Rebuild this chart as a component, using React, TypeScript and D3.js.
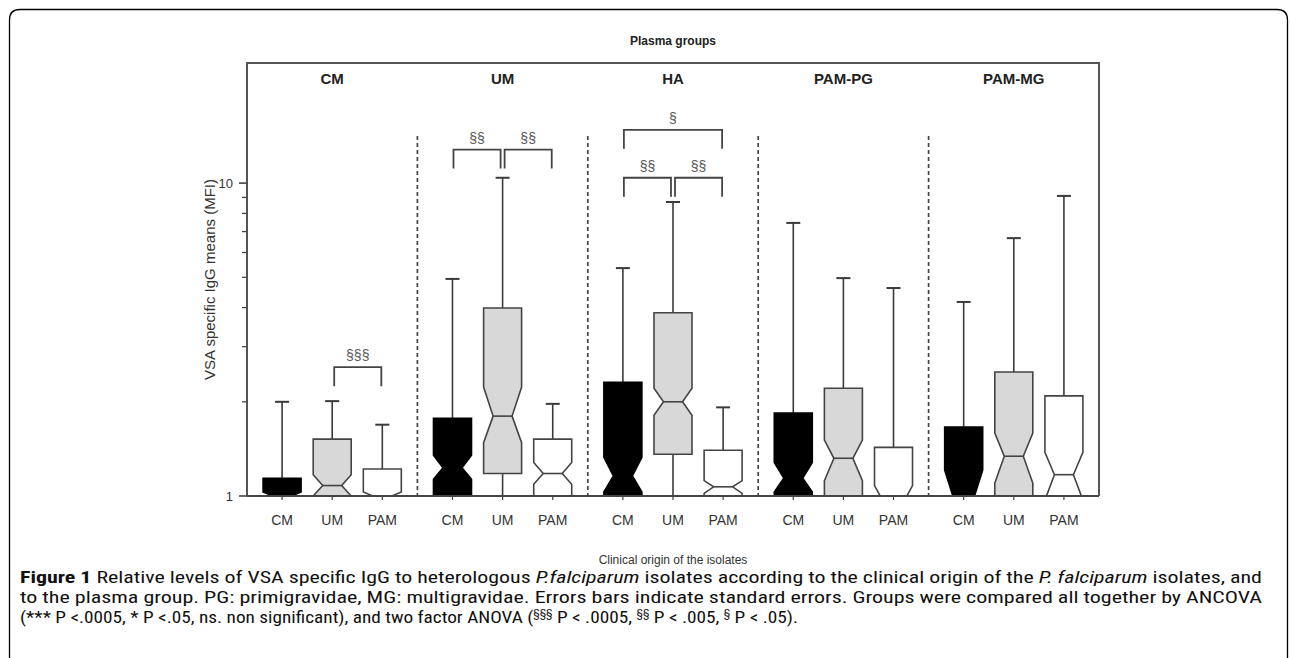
import React from "react";
import * as d3 from "d3";

const panels = ["CM", "UM", "HA", "PAM-PG", "PAM-MG"];
const isolates = ["CM", "UM", "PAM"];
const fills = ["#000000", "#d8d8d8", "#ffffff"];
const yTicks = [1, 10];
const minorTicks = [2, 3, 4, 5, 6, 7, 8, 9];

// ordered panel by panel, isolate CM, UM, PAM
const whiskerHi = [2.0, 2.01, 1.69, 4.94, 10.4, 1.97, 5.35, 8.7, 1.92, 7.46, 4.97, 4.62, 4.17, 6.67, 9.1];
const q3 = [1.14, 1.52, 1.22, 1.77, 3.99, 1.52, 2.31, 3.85, 1.4, 1.84, 2.21, 1.43, 1.66, 2.49, 2.09];
const notchHi = [1.03, 1.17, 1.03, 1.35, 2.23, 1.28, 1.33, 2.21, 1.12, 1.28, 1.51, 1.08, 1.21, 1.59, 1.38];
const median = [1.0, 1.08, 1.0, 1.23, 1.8, 1.18, 1.16, 2.0, 1.07, 1.14, 1.32, 0.95, 0.97, 1.34, 1.17];
const notchLo = [0.97, 1.0, 0.97, 1.13, 1.48, 1.09, 1.03, 1.81, 1.02, 1.03, 1.12, 0.84, 0.8, 1.1, 0.97];
const q1 = [0.8, 0.95, 0.8, 0.9, 1.18, 0.9, 0.9, 1.36, 0.9, 0.9, 0.9, 0.75, 0.7, 0.9, 0.8];
const whiskerLo = [0.7, 0.8, 0.7, 0.8, 0.95, 0.8, 0.8, 1.0, 0.8, 0.8, 0.8, 0.7, 0.6, 0.8, 0.7];

const bracketPanel = [0, 1, 1, 2, 2, 2];
const bracketFrom = [1, 0, 1, 0, 0, 1];
const bracketTo = [2, 1, 2, 2, 1, 2];
const bracketLevel = [2.58, 12.8, 12.8, 14.8, 10.4, 10.4];
const bracketLabel = ["§§§", "§§", "§§", "§", "§§", "§§"];

const L = 247, R = 1099, T = 63, B = 496;

export default function App() {
  const y = d3.scaleLog().domain([1, 24.2]).range([B, T]);
  const xp = d3.scaleBand<string>().domain(panels).range([L, R]);
  const xi = d3.scalePoint<string>().domain(isolates).range([0, xp.bandwidth()]).padding(0.7);
  const bw = 38, nw = 19, cap = 7;
  const cx = (p: number, i: number) => (xp(panels[p]) as number) + (xi(isolates[i]) as number);
  const stroke = "#3a3a3a";

  const boxes = [] as any[];
  panels.forEach((_, p) => {
    isolates.forEach((__, i) => {
      const k = p * 3 + i;
      const x = cx(p, i);
      const pts: [number, number][] = [
        [x - bw / 2, y(q3[k])], [x + bw / 2, y(q3[k])], [x + bw / 2, y(notchHi[k])],
        [x + nw / 2, y(median[k])], [x + bw / 2, y(notchLo[k])], [x + bw / 2, y(q1[k])],
        [x - bw / 2, y(q1[k])], [x - bw / 2, y(notchLo[k])], [x - nw / 2, y(median[k])],
        [x - bw / 2, y(notchHi[k])],
      ];
      const path = d3.line()(pts) + "Z";
      boxes.push(
        <g key={k}>
          <line x1={x} x2={x} y1={y(q3[k])} y2={y(whiskerHi[k])} stroke={stroke} strokeWidth={1.6} />
          <line x1={x - cap} x2={x + cap} y1={y(whiskerHi[k])} y2={y(whiskerHi[k])} stroke={stroke} strokeWidth={2} />
          <line x1={x} x2={x} y1={y(q1[k])} y2={y(whiskerLo[k])} stroke={stroke} strokeWidth={1.6} />
          <line x1={x - cap} x2={x + cap} y1={y(whiskerLo[k])} y2={y(whiskerLo[k])} stroke={stroke} strokeWidth={2} />
          <path d={path} fill={fills[i]} stroke={i === 0 ? "#000" : "#444"} strokeWidth={1.6} strokeLinejoin="miter" />
          <line x1={x - nw / 2} x2={x + nw / 2} y1={y(median[k])} y2={y(median[k])} stroke={i === 0 ? "#000" : "#444"} strokeWidth={1.6} />
        </g>
      );
    });
  });

  const brackets = bracketPanel.map((p, j) => {
    const x1 = cx(p, bracketFrom[j]) + (bracketFrom[j] === 1 ? 2 : 1);
    const x2 = cx(p, bracketTo[j]) - (bracketTo[j] === 1 ? 2 : 1);
    const yy = y(bracketLevel[j]);
    return (
      <g key={j}>
        <path d={`M${x1},${yy + 19}V${yy}H${x2}V${yy + 19}`} fill="none" stroke="#444" strokeWidth={1.8} />
        <text x={(x1 + x2) / 2} y={yy - 7} textAnchor="middle" fontSize={14} fill="#555">{bracketLabel[j]}</text>
      </g>
    );
  });

  const capFont = "'Liberation Sans Narrow', 'Roboto Condensed', Roboto, sans-serif";

  return (
    <svg width={1290} height={658} style={{ position: "absolute", left: 0, top: 0, background: "#fff" }} fontFamily="Liberation Sans, Arial, sans-serif">
      <defs>
        <clipPath id="plotclip"><rect x={L} y={T} width={R - L} height={B - T} /></clipPath>
      </defs>
      {/* outer frame */}
      <path d="M9.5,658 V20 Q9.5,9.5 20,9.5 H1277 Q1287.5,9.5 1287.5,20 V658" fill="none" stroke="#000" strokeWidth={1.3} />
      <text x={(L + R) / 2} y={45} textAnchor="middle" fontWeight="bold" fontSize={12} fill="#222">Plasma groups</text>
      {/* plot frame */}
      <path d={`M${L},${B}V${T}H${R}V${B}`} fill="none" stroke="#555" strokeWidth={2} />
      {panels.map((p) => (
        <text key={p} x={(xp(p) as number) + xp.bandwidth() / 2} y={84} textAnchor="middle" fontWeight="bold" fontSize={15} fill="#222">{p}</text>
      ))}
      {panels.slice(1).map((p) => (
        <line key={p} x1={xp(p)} x2={xp(p)} y1={136} y2={B} stroke="#444" strokeWidth={1.7} strokeDasharray="4,3" />
      ))}
      <g clipPath="url(#plotclip)">{boxes}</g>
      {brackets}
      {/* x axis */}
      <line x1={L} x2={R} y1={B} y2={B} stroke="#444" strokeWidth={1.8} />
      {panels.map((p, pi) => isolates.map((iso, i) => (
        <g key={p + iso}>
          <line x1={cx(pi, i)} x2={cx(pi, i)} y1={B} y2={B + 4} stroke="#444" strokeWidth={1.2} />
          <text x={cx(pi, i)} y={525} textAnchor="middle" fontSize={14} fill="#333">{iso}</text>
        </g>
      )))}
      <text x={(L + R) / 2} y={564} textAnchor="middle" fontSize={12} fill="#333">Clinical origin of the isolates</text>
      {/* y axis */}
      {yTicks.map((t) => (
        <g key={t}>
          <line x1={L - 8} x2={L} y1={y(t)} y2={y(t)} stroke="#444" strokeWidth={1.6} />
          <text x={L - 14} y={y(t) + 5} textAnchor="end" fontSize={13} fill="#333">{t}</text>
        </g>
      ))}
      {minorTicks.map((t) => (
        <line key={t} x1={L - 5} x2={L} y1={y(t)} y2={y(t)} stroke="#444" strokeWidth={1.3} />
      ))}
      <text transform={`translate(215,${(T + B) / 2}) rotate(-90)`} textAnchor="middle" fontSize={15} fill="#333">VSA specific IgG means (MFI)</text>
      {/* caption */}
      <text x={20} y={583} fontSize={16} fill="#111" fontFamily={capFont} textLength={1242} lengthAdjust="spacingAndGlyphs">
        <tspan fontWeight="bold">Figure 1</tspan> Relative levels of VSA specific IgG to heterologous <tspan fontStyle="italic">P.falciparum</tspan> isolates according to the clinical origin of the <tspan fontStyle="italic">P. falciparum</tspan> isolates, and
      </text>
      <text x={20} y={603} fontSize={16} fill="#111" fontFamily={capFont} textLength={1242} lengthAdjust="spacingAndGlyphs">
        to the plasma group. PG: primigravidae, MG: multigravidae. Errors bars indicate standard errors. Groups were compared all together by ANCOVA
      </text>
      <text x={20} y={623} fontSize={16} fill="#111" fontFamily={capFont} textLength={778} lengthAdjust="spacingAndGlyphs">
        (*** P &lt;.0005, * P &lt;.05, ns. non significant), and two factor ANOVA (<tspan fontSize={10} dy={-6}>§§§</tspan><tspan dy={6}> P &lt; .0005, </tspan><tspan fontSize={10} dy={-6}>§§</tspan><tspan dy={6}> P &lt; .005, </tspan><tspan fontSize={10} dy={-6}>§</tspan><tspan dy={6}> P &lt; .05).</tspan>
      </text>
    </svg>
  );
}
